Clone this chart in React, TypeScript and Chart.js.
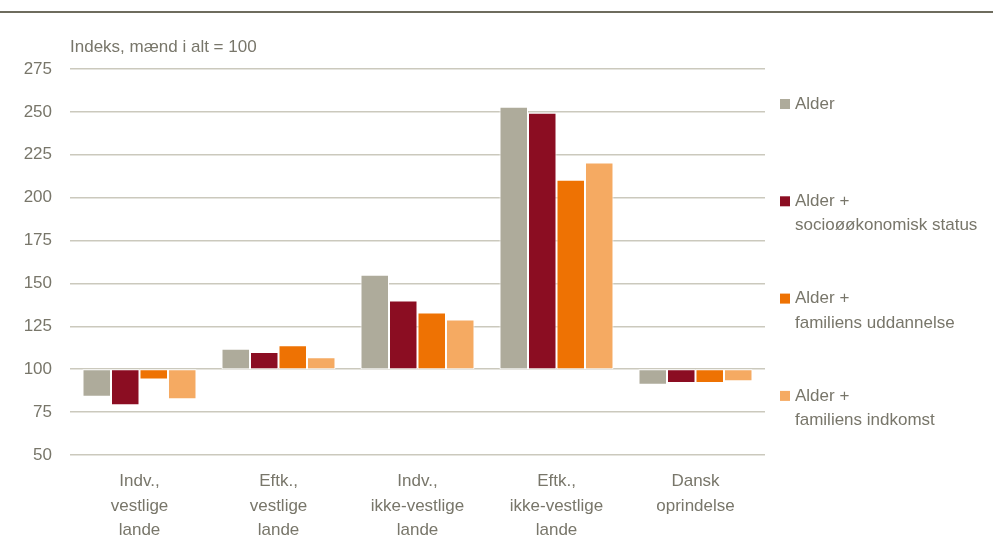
import React, { useEffect, useRef } from "react";
import { Chart, registerables } from "chart.js";
Chart.register(...registerables);

const categories: string[][] = [
  ["Indv.,", "vestlige", "lande"],
  ["Eftk.,", "vestlige", "lande"],
  ["Indv.,", "ikke-vestlige", "lande"],
  ["Eftk.,", "ikke-vestlige", "lande"],
  ["Dansk", "oprindelse"],
];
const base = 100;
const alder = [84, 112, 155, 253, 91];
const alderSocio = [79, 110, 140, 249.5, 92];
const alderUdd = [94, 114, 133, 210.5, 92];
const alderIndk = [82.5, 107, 129, 220.5, 93];
const legendLabels: string[][] = [
  ["Alder"],
  ["Alder +", "socioøøkonomisk status"],
  ["Alder +", "familiens uddannelse"],
  ["Alder +", "familiens indkomst"],
];
const colors = ["#aeab9b", "#8b0d22", "#ee7203", "#f5aa62"];
const yTitle = "Indeks, mænd i alt = 100";

const FONT = '"Liberation Sans Narrow", "Arial Narrow", "Liberation Sans", sans-serif';
const TEXT = "#78766a";

export default function App() {
  const ref = useRef<HTMLCanvasElement | null>(null);
  useEffect(() => {
    if (!ref.current) return;
    const series = [alder, alderSocio, alderUdd, alderIndk];
    const overlay = {
      id: "overlay",
      afterDraw(chart: any) {
        const ctx = chart.ctx;
        const ca = chart.chartArea;
        ctx.save();
        ctx.fillStyle = TEXT;
        ctx.font = `17px ${FONT}`;
        ctx.textBaseline = "middle";
        ctx.textAlign = "left";
        ctx.fillText(yTitle, ca.left, ca.top - 22);
        const lx = ca.right + 15;
        legendLabels.forEach((lines, i) => {
          const y = 104 + i * 97.3;
          ctx.fillStyle = colors[i];
          ctx.fillRect(lx, y - 5, 10, 10);
          ctx.fillStyle = TEXT;
          lines.forEach((t, j) => ctx.fillText(t, lx + 15, y + j * 24.5));
        });
        ctx.restore();
      },
    };
    const chart = new Chart(ref.current, {
      type: "bar",
      data: {
        labels: categories,
        datasets: legendLabels.map((l, i) => ({
          label: l.join(" "),
          data: series[i].map((v) => [base, v]),
          backgroundColor: colors[i],
          borderColor: "#ffffff",
          borderWidth: 1,
          borderSkipped: false,
          categoryPercentage: 0.82,
          barPercentage: 1,
        })),
      } as any,
      options: {
        animation: false,
        responsive: false,
        maintainAspectRatio: false,
        layout: { padding: { top: 69, right: 228, left: 0, bottom: 0 } },
        plugins: { legend: { display: false }, tooltip: { enabled: false } },
        scales: {
          x: {
            afterFit(scale: any) { scale.height = 87; },
            grid: { display: false, drawTicks: false },
            border: { display: false },
            ticks: { color: TEXT, font: { family: FONT, size: 17, lineHeight: 1.45 } as any, padding: 14, maxRotation: 0 },
          },
          y: {
            min: 50,
            max: 275,
            afterFit(scale: any) { scale.width = 70; },
            grid: { color: "#cbc9bd", lineWidth: 1.5, drawTicks: false },
            border: { display: false },
            ticks: { stepSize: 25, color: TEXT, font: { family: FONT, size: 17 }, padding: 18 },
          },
        },
      } as any,
      plugins: [overlay],
    });
    return () => chart.destroy();
  }, []);
  return (
    <div style={{ position: "fixed", left: 0, top: 0, width: 993, height: 542, background: "#fff" }}>
      <div style={{ position: "absolute", left: 0, top: 11, width: 993, height: 2, background: "#6e6c5e" }} />
      <canvas ref={ref} width={993} height={542} style={{ position: "absolute", left: 0, top: 0 }} />
    </div>
  );
}
